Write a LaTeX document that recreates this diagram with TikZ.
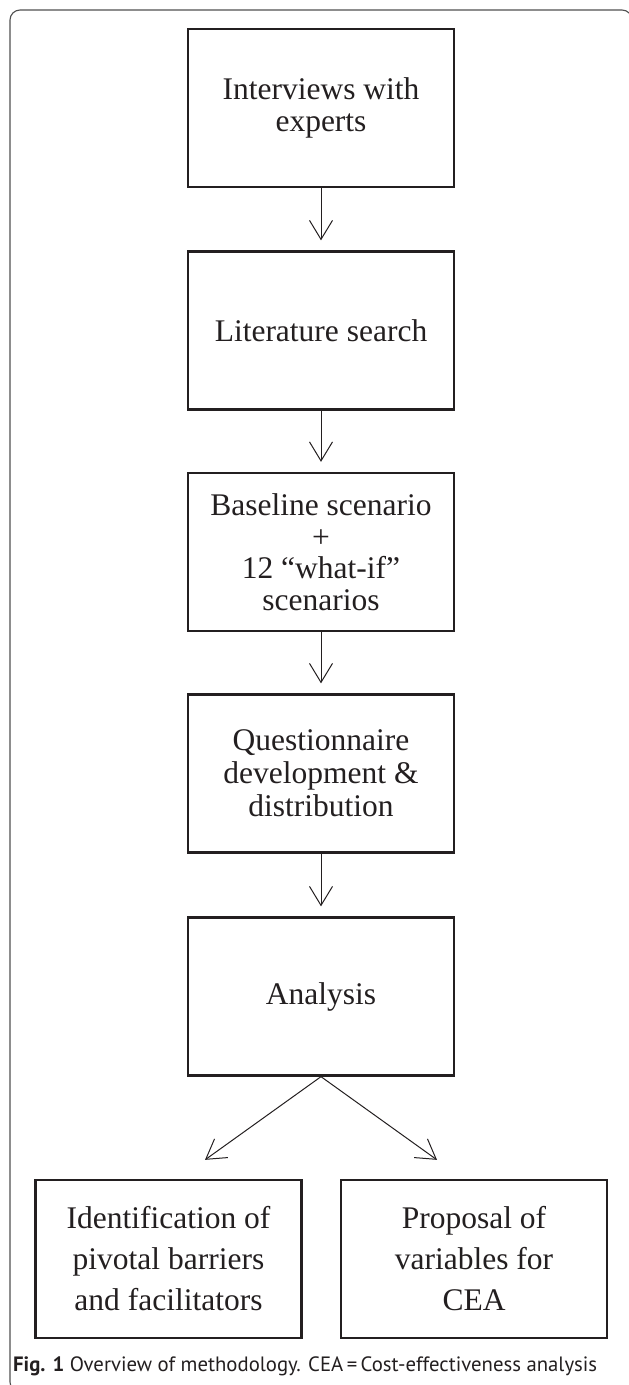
\documentclass[tikz,border=0pt]{standalone}
\usepackage{fontspec}
\usepackage{graphicx}
\setmainfont{Liberation Serif}
\newfontfamily\capfont{PT Sans}
\usetikzlibrary{arrows.meta}
\definecolor{boxline}{HTML}{231F20}
\definecolor{framegray}{HTML}{505050}

\begin{document}
\begin{tikzpicture}[x=1pt,y=-1pt,
    stepbox/.style={draw=boxline,line width=2.3pt,minimum width=266pt,minimum height=158pt,
        inner sep=0pt,align=center,text=boxline,font=\fontsize{31.5}{31.5}\selectfont},
    flow/.style={draw=boxline,line width=1pt,-{Straight Barb[length=19pt,width=23pt]}}]
    \useasboundingbox (0,0) rectangle (629,1385);
    \clip (0,0) rectangle (629,1385);
    \draw[framegray,line width=1.1pt,rounded corners=10pt] (10,10) rectangle (632,1392);

    \node[stepbox] (interviews) at (321,108) {Interviews with\\experts};
    \node[stepbox] (literature) at (321,330.5) {Literature search};
    \node[stepbox] (scenarios) at (321,552) {Baseline scenario\\+\\12 “what-if”\\scenarios};
    \node[stepbox,font=\fontsize{31.5}{33}\selectfont] (questionnaire) at (321,773.5) {Questionnaire\\development \&\\distribution};
    \node[stepbox] (analysis) at (321,996.5) {Analysis};
    \node[stepbox,font=\fontsize{31.5}{41}\selectfont] (barriers) at (168.5,1259) {Identification of\\pivotal barriers\\and facilitators};
    \node[stepbox,font=\fontsize{31.5}{41}\selectfont] (proposal) at (474,1259) {Proposal of\\variables for\\CEA};

    \draw[flow] (interviews.south) -- ([yshift=10pt]literature.north);
    \draw[flow] (literature.south) -- ([yshift=10pt]scenarios.north);
    \draw[flow] (scenarios.south) -- ([yshift=10pt]questionnaire.north);
    \draw[flow] (questionnaire.south) -- ([yshift=10pt]analysis.north);
    \draw[flow] (analysis.south) -- ([xshift=36.5pt,yshift=19pt]barriers.north);
    \draw[flow] (analysis.south) -- ([xshift=-37pt,yshift=19pt]proposal.north);

    \node[anchor=base west,inner sep=0pt,text=boxline,font=\capfont\fontsize{20}{23}\selectfont] (caption) at (13,1371)
        {\resizebox{584pt}{!}{\textbf{Fig. 1} Overview of methodology. CEA\,=\,Cost-effectiveness analysis}};
\end{tikzpicture}
\end{document}
